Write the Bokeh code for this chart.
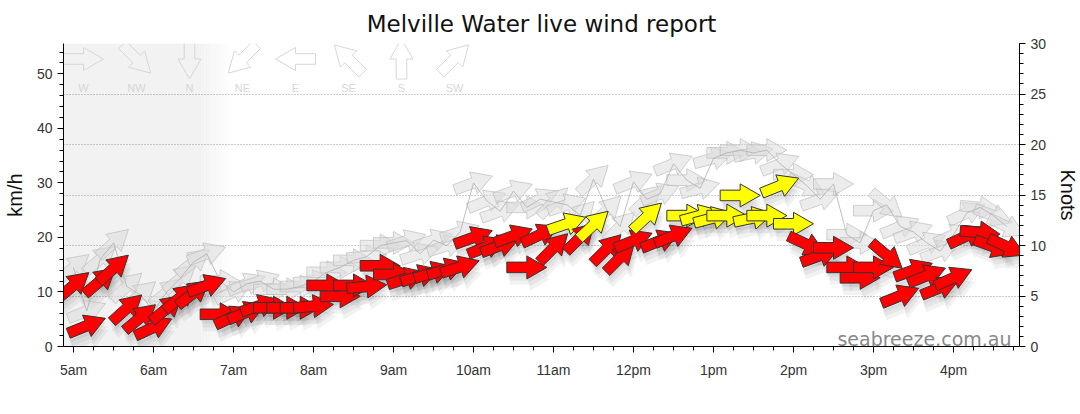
import numpy as np
from bokeh.plotting import figure
from bokeh.models import Range1d, LinearAxis, FixedTicker, Grid, ColumnDataSource
from bokeh.embed import file_html
from bokeh.resources import INLINE
from bokeh.core.properties import value

# ---------------- data ----------------
times = ["05:00", "05:10", "05:20", "05:30", "05:40", "05:50",
         "06:00", "06:10", "06:20", "06:30", "06:40", "06:50",
         "07:00", "07:10", "07:20", "07:30", "07:40", "07:50",
         "08:00", "08:10", "08:20", "08:30", "08:40", "08:50",
         "09:00", "09:10", "09:20", "09:30", "09:40", "09:50",
         "10:00", "10:10", "10:20", "10:30", "10:40", "10:50",
         "11:00", "11:10", "11:20", "11:30", "11:40", "11:50",
         "12:00", "12:10", "12:20", "12:30", "12:40", "12:50",
         "13:00", "13:10", "13:20", "13:30", "13:40", "13:50",
         "14:00", "14:10", "14:20", "14:30", "14:40", "14:50",
         "15:00", "15:10", "15:20", "15:30", "15:40", "15:50",
         "16:00", "16:10", "16:20", "16:30", "16:40"]

avg_kmh = [11.2, 3.8, 12.0, 14.3, 7.0, 5.3,
           3.5, 7.0, 9.0, 9.8, 11.2, 5.9,
           5.5, 6.3, 7.5, 7.1, 7.1, 7.1,
           7.4, 11.2, 9.2, 11.2, 11.0, 14.8,
           13.2, 12.5, 13.0, 13.6, 14.2, 14.6,
           20.0, 18.3, 18.5, 20.3, 14.5, 20.5,
           18.1, 22.5, 20.0, 22.3, 17.9, 16.3,
           19.4, 23.8, 19.4, 20.3, 24.0, 24.0,
           23.6, 24.0, 27.7, 23.6, 24.0, 29.5,
           22.5, 18.7, 16.7, 18.1, 14.5, 12.6,
           14.5, 16.7, 9.3, 14.0, 13.0, 10.8,
           12.6, 20.3, 20.9, 18.3, 18.3]

gust_kmh = [14.5, 6.5, 16.0, 19.0, 11.0, 9.5,
            6.5, 10.0, 12.5, 15.5, 17.0, 12.0,
            10.0, 11.5, 12.0, 10.5, 10.5, 11.0,
            12.0, 13.6, 14.5, 15.8, 16.5, 18.5,
            19.0, 19.4, 17.0, 19.5, 18.5, 21.0,
            30.0, 26.7, 24.8, 28.5, 25.5, 27.0,
            26.5, 26.0, 24.0, 30.7, 25.0, 22.0,
            30.2, 27.0, 28.0, 33.5, 30.5, 29.0,
            34.5, 35.5, 36.0, 35.5, 36.0, 33.5,
            31.5, 29.5, 27.0, 29.8, 20.5, 19.0,
            24.9, 26.0, 22.0, 21.0, 19.0, 17.5,
            20.5, 24.5, 25.5, 24.0, 22.0]

# direction the wind comes FROM, compass degrees
dir_deg = [230, 248, 230, 228, 228, 230,
           245, 230, 230, 232, 250, 270,
           245, 248, 252, 270, 270, 270,
           265, 270, 270, 270, 265, 270,
           270, 252, 252, 252, 252, 252,
           250, 248, 250, 250, 270, 245,
           225, 251, 225, 227, 225, 225,
           248, 227, 248, 248, 270, 255,
           255, 270, 270, 258, 270, 248,
           270, 295, 250, 270, 270, 270,
           270, 310, 248, 250, 248, 248,
           246, 245, 275, 290, 295]

compass_labels = ["W", "NW", "N", "NE", "E", "SE", "S", "SW"]
compass_deg = [270, 315, 0, 45, 90, 135, 180, 225]

hour_ticks = [5, 6, 7, 8, 9, 10, 11, 12, 13, 14, 15, 16]
hour_labels = ["5am", "6am", "7am", "8am", "9am", "10am", "11am",
               "12pm", "1pm", "2pm", "3pm", "4pm"]

night_fade_start = "06:36"
night_end = "06:58"
yellow_from_knots = 12
KMH_PER_KNOT = 1.852

# ---------------- geometry ----------------
def hours(t):
    h, m = t.split(":")
    return int(h) + int(m) / 60.0

X0, X1 = 4.875, 16.825
Y1 = 30 * KMH_PER_KNOT
FW, FH = 956, 303
sx = FW / (X1 - X0)   # px per hour
sy = FH / Y1          # px per km/h

ARROW = [(-20, -5.3), (0, -5.3), (0, -11.5), (20, 0),
         (0, 11.5), (0, 5.3), (-20, 5.3)]


def arrow_poly(xc, yc, dirv, dx_px=0.0, dy_px=0.0):
    a = np.radians(270 - dirv)
    c, s = np.cos(a), np.sin(a)
    xs, ys = [], []
    for u, v in ARROW:
        px = u * c - v * s + dx_px
        py = u * s + v * c + dy_px
        xs.append(xc + px / sx)
        ys.append(yc + py / sy)
    return xs, ys


tx = [hours(t) for t in times]

# ---------------- figure ----------------
p = figure(frame_width=FW, frame_height=FH,
           x_range=Range1d(X0, X1), y_range=Range1d(0, Y1),
           output_backend="svg", toolbar_location=None,
           min_border_left=54, min_border_right=54,
           min_border_top=43, min_border_bottom=45,
           background_fill_color="white")
p.outline_line_color = None
p.xgrid.visible = False
p.ygrid.visible = False

p.title.text = "Melville Water live wind report"
p.title.align = "center"
p.title.vertical_align = "top"
p.title.text_font = "DejaVu Sans"
p.title.text_font_size = "23px"
p.title.text_font_style = "normal"
p.title.text_color = "#111111"

# night shading
p.quad(left=X0, right=hours(night_fade_start), bottom=0, top=Y1,
       fill_color="#f2f2f2", line_color=None, level="image")
fs, fe = hours(night_fade_start), hours(night_end)
nsteps = 10
for i in range(nsteps):
    l = fs + (fe - fs) * i / nsteps
    r = fs + (fe - fs) * (i + 1) / nsteps
    p.quad(left=l, right=r, bottom=0, top=Y1, fill_color="#f2f2f2",
           fill_alpha=1 - (i + 0.5) / nsteps, line_color=None, level="image")

# knots grid
p.extra_y_ranges = {"kn": Range1d(0, 30)}
grid = Grid(dimension=1, y_range_name="kn",
            ticker=FixedTicker(ticks=[5, 10, 15, 20, 25]),
            grid_line_color="#999999", grid_line_dash="1 2", grid_line_width=1)
p.add_layout(grid)

# axes
ax = p.xaxis[0]
ax.ticker = FixedTicker(ticks=hour_ticks,
                        minor_ticks=list(np.arange(4.75, 17.0, 0.25)))
ax.major_label_overrides = {h: l for h, l in zip(hour_ticks, hour_labels)}
ay = p.yaxis[0]
ay.ticker = FixedTicker(ticks=[0, 10, 20, 30, 40, 50],
                        minor_ticks=list(range(0, 56, 2)))
ay.axis_label = "km/h"
ar = LinearAxis(y_range_name="kn", axis_label="Knots",
                ticker=FixedTicker(ticks=[0, 5, 10, 15, 20, 25, 30],
                                   minor_ticks=list(range(0, 31))))
p.add_layout(ar, "right")
for a in (ax, ay, ar):
    a.axis_line_color = "black"
    a.major_tick_line_color = "black"
    a.minor_tick_line_color = "black"
    a.major_tick_in = 0
    a.major_tick_out = 6
    a.minor_tick_in = 0
    a.minor_tick_out = 4
    a.major_label_text_font = "Liberation Sans"
    a.major_label_text_font_size = "14px"
    a.major_label_text_color = "#333333"
    a.axis_label_text_font = "Liberation Sans"
    a.axis_label_text_font_size = "20px"
    a.axis_label_text_font_style = "normal"
    a.axis_label_text_color = "#111111"
ax.major_label_standoff = 9
ay.axis_label_standoff = 8
ar.axis_label_standoff = 8

# compass legend (top left)
lx = [X0 + (20 + 53 * k) / sx for k in range(len(compass_labels))]
ly = Y1 - 15.5 / sy
lxs, lys = [], []
for xx, d in zip(lx, compass_deg):
    a, b = arrow_poly(xx, ly, d)
    lxs.append(a)
    lys.append(b)
p.patches(lxs, lys, fill_color=None, line_color="#d6d6d6", line_width=1)
p.text(x=lx, y=[Y1 - 44 / sy] * len(lx), text=compass_labels,
       text_align="center", text_baseline="middle", text_color="#d6d6d6",
       text_font=value("Liberation Sans"), text_font_size="11px")

# shadows
shx, shy = [], []
for off in [(1, -4), (2, -8), (3, -12)]:
    for xx, yy, d in zip(tx, avg_kmh, dir_deg):
        a, b = arrow_poly(xx, yy, d, off[0], off[1])
        shx.append(a)
        shy.append(b)
p.patches(shx, shy, fill_color="black", fill_alpha=0.05, line_color=None)

# gust arrows
gxs, gys = [], []
for xx, yy, d in zip(tx, gust_kmh, dir_deg):
    a, b = arrow_poly(xx, yy, d)
    gxs.append(a)
    gys.append(b)
p.patches(gxs, gys, fill_color="#dddddd", fill_alpha=0.55,
          line_color="#bdbdbd", line_alpha=0.7, line_width=1)
p.line(tx, gust_kmh, line_color="#b0b0b0", line_width=1, line_alpha=0.8)

# average arrows
axs, ays, cols = [], [], []
for xx, yy, d in zip(tx, avg_kmh, dir_deg):
    a, b = arrow_poly(xx, yy, d)
    axs.append(a)
    ays.append(b)
    cols.append("#ffff00" if yy / KMH_PER_KNOT >= yellow_from_knots else "#ff0000")
src = ColumnDataSource(dict(xs=axs, ys=ays, c=cols))
p.patches("xs", "ys", source=src, fill_color="c", line_color="#333333",
          line_width=1)

# watermark
p.text(x=[X1 - 8 / sx], y=[8 / sy], text=["seabreeze.com.au"],
       text_align="right", text_baseline="alphabetic", text_color="#888888",
       text_font=value("DejaVu Sans"), text_font_size="19px")

open("out.html", "w").write(file_html(p, INLINE))
